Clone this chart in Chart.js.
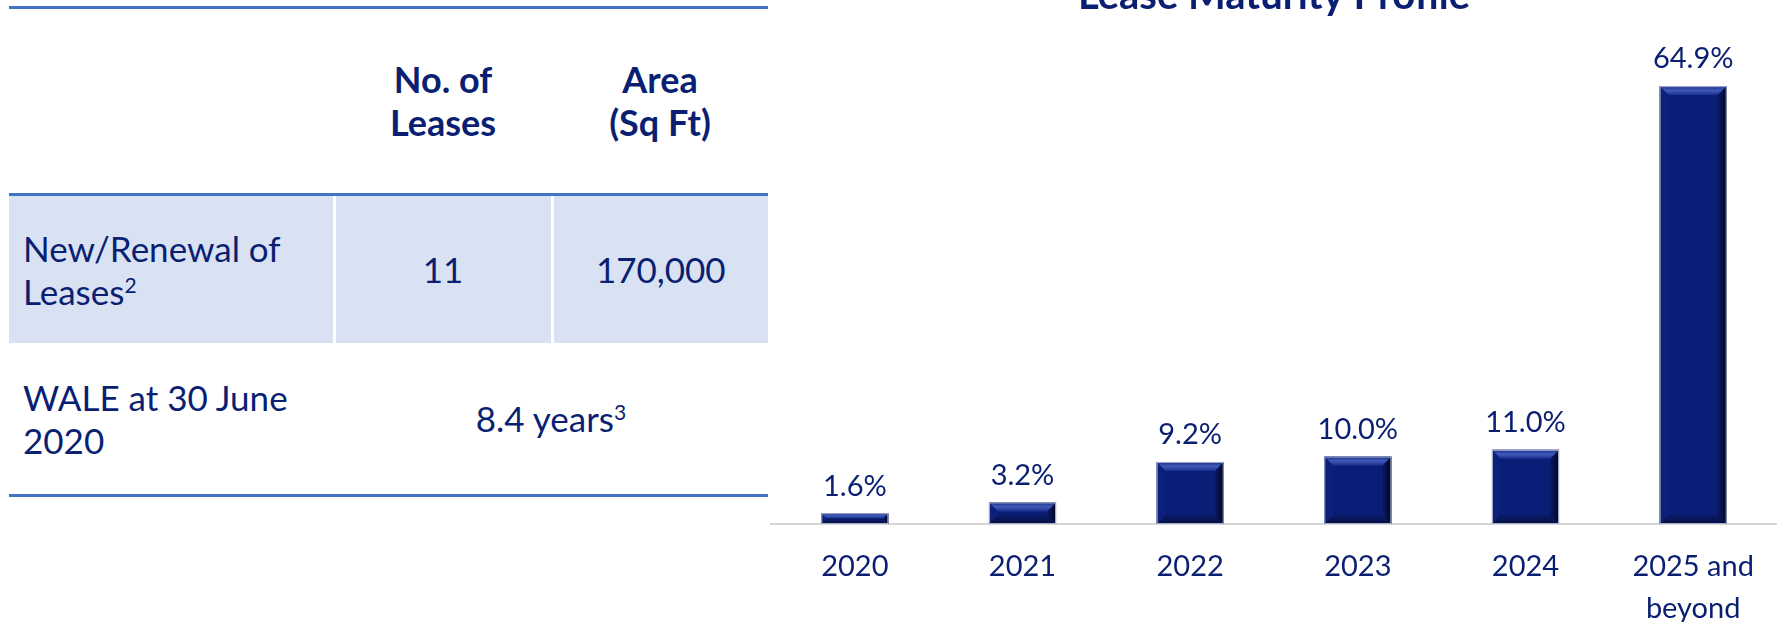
<!DOCTYPE html>
<html lang="en">
<head>
<meta charset="UTF-8">
<title>Lease Maturity Profile</title>
<script src="https://cdn.jsdelivr.net/npm/chart.js"></script>
<style>
  html, body { margin: 0; padding: 0; background: #fff; }
  body { width: 1777px; height: 622px; position: relative; overflow: hidden; font-family: Lato, sans-serif; color: #0a1f72; }
  #leases {
    position: absolute; left: 9px; top: 6px; width: 759px;
    border-collapse: collapse; table-layout: fixed;
  }
  #leases td, #leases th { font-size: 35px; line-height: 43px; padding: 0; vertical-align: middle; }
  #leases th { font-weight: bold; font-size: 36px; text-align: center; height: 184px; border-top: 3px solid #4472c4; border-bottom: 3px solid #4472c4; }
  #leases tr.shade td { background: #d9e2f3; height: 147px; border-left: 3px solid #fff; }
  #leases tr.shade td:first-child { border-left: none; }
  #leases tr.last td { height: 151px; border-bottom: 3px solid #4472c4; }
  #leases td.lbl { text-align: left; padding-left: 14px; }
  #leases td.num { text-align: center; }
  sup { font-size: 21px; line-height: 0; vertical-align: 12px; }
  #chartBox { position: absolute; left: 755px; top: -28px; width: 1022px; height: 650px; }
</style>
</head>
<body>

<table id="leases">
  <colgroup><col style="width:325px"><col style="width:218px"><col style="width:216px"></colgroup>
  <tr><th></th><th>No. of<br>Leases</th><th>Area<br>(Sq Ft)</th></tr>
  <tr class="shade"><td class="lbl">New/Renewal of<br>Leases<sup>2</sup></td><td class="num">11</td><td class="num">170,000</td></tr>
  <tr class="last"><td class="lbl">WALE at 30 June<br>2020</td><td class="num" colspan="2">8.4 years<sup>3</sup></td></tr>
</table>

<div id="chartBox"><canvas id="maturityChart"></canvas></div>

<script>
const years = ['2020', '2021', '2022', '2023', '2024', ['2025 and', 'beyond']];
const maturityPct = [1.6, 3.2, 9.2, 10.0, 11.0, 64.9];
const TEXT = '#0a1f72';

// bevelled bar look + value labels on top
const bevelBars = {
  id: 'bevelBars',
  afterDatasetsDraw(chart) {
    const ctx = chart.ctx;
    const meta = chart.getDatasetMeta(0);
    meta.data.forEach((bar, i) => {
      const L = bar.x - bar.width / 2, R = bar.x + bar.width / 2;
      const T = bar.y, B = bar.base;
      const b = Math.min(9, (B - T) / 2);
      ctx.save();
      // right edge, fading to black
      let g = ctx.createLinearGradient(R - b, 0, R, 0);
      g.addColorStop(0, '#0a1a66');
      g.addColorStop(1, '#000520');
      ctx.fillStyle = g;
      ctx.beginPath();
      ctx.moveTo(R, T); ctx.lineTo(R, B); ctx.lineTo(R - b, B - b); ctx.lineTo(R - b, T + b); ctx.closePath();
      ctx.fill();
      // left edge
      ctx.fillStyle = '#0b207a';
      ctx.beginPath();
      ctx.moveTo(L, T); ctx.lineTo(L, B); ctx.lineTo(L + b, B - b); ctx.lineTo(L + b, T + b); ctx.closePath();
      ctx.fill();
      // top bevel, lighter
      g = ctx.createLinearGradient(0, T, 0, T + b);
      g.addColorStop(0, '#1c3290');
      g.addColorStop(0.5, '#4058b8');
      g.addColorStop(1, '#1a2e8c');
      ctx.fillStyle = g;
      ctx.beginPath();
      ctx.moveTo(L, T); ctx.lineTo(R, T); ctx.lineTo(R - b, T + b); ctx.lineTo(L + b, T + b); ctx.closePath();
      ctx.fill();
      // bottom bevel, darker
      g = ctx.createLinearGradient(0, B - b, 0, B);
      g.addColorStop(0, '#0a1a66');
      g.addColorStop(1, '#050f45');
      ctx.fillStyle = g;
      ctx.beginPath();
      ctx.moveTo(L, B); ctx.lineTo(R, B); ctx.lineTo(R - b, B - b); ctx.lineTo(L + b, B - b); ctx.closePath();
      ctx.fill();
      // thin light outline
      ctx.strokeStyle = '#a9b0c8';
      ctx.lineWidth = 1;
      ctx.strokeRect(L + 0.5, T + 0.5, bar.width - 1, B - T - 1);
      // value label
      ctx.fillStyle = TEXT;
      ctx.font = '29px Lato';
      ctx.textAlign = 'center';
      ctx.textBaseline = 'middle';
      ctx.fillText(maturityPct[i].toFixed(1) + '%', bar.x, T - 27);
      ctx.restore();
    });
  }
};

new Chart(document.getElementById('maturityChart'), {
  type: 'bar',
  data: {
    labels: years,
    datasets: [{
      data: maturityPct,
      backgroundColor: '#0a1e78',
      borderWidth: 0,
      categoryPercentage: 1,
      barPercentage: 0.4
    }]
  },
  options: {
    responsive: true,
    maintainAspectRatio: false,
    animation: false,
    layout: { padding: { left: 16, right: 0, top: 0, bottom: 0 } },
    plugins: {
      legend: { display: false },
      tooltip: { enabled: false },
      title: {
        display: true,
        text: 'Lease Maturity Profile',
        color: TEXT,
        font: { family: 'Lato', size: 40, weight: 'bold' },
        padding: { top: 0, bottom: 0 }
      }
    },
    scales: {
      x: {
        grid: { display: true, drawOnChartArea: false, drawTicks: false },
        border: { display: true, color: '#d6d6d6', width: 2 },
        ticks: { color: TEXT, font: { family: 'Lato', size: 29, lineHeight: 1.45 }, padding: 22, maxRotation: 0, autoSkip: false },
        afterFit(scale) { scale.height = 98; }
      },
      y: { display: false, min: 0, max: 74.7 }
    }
  },
  plugins: [bevelBars]
});
</script>
</body>
</html>
